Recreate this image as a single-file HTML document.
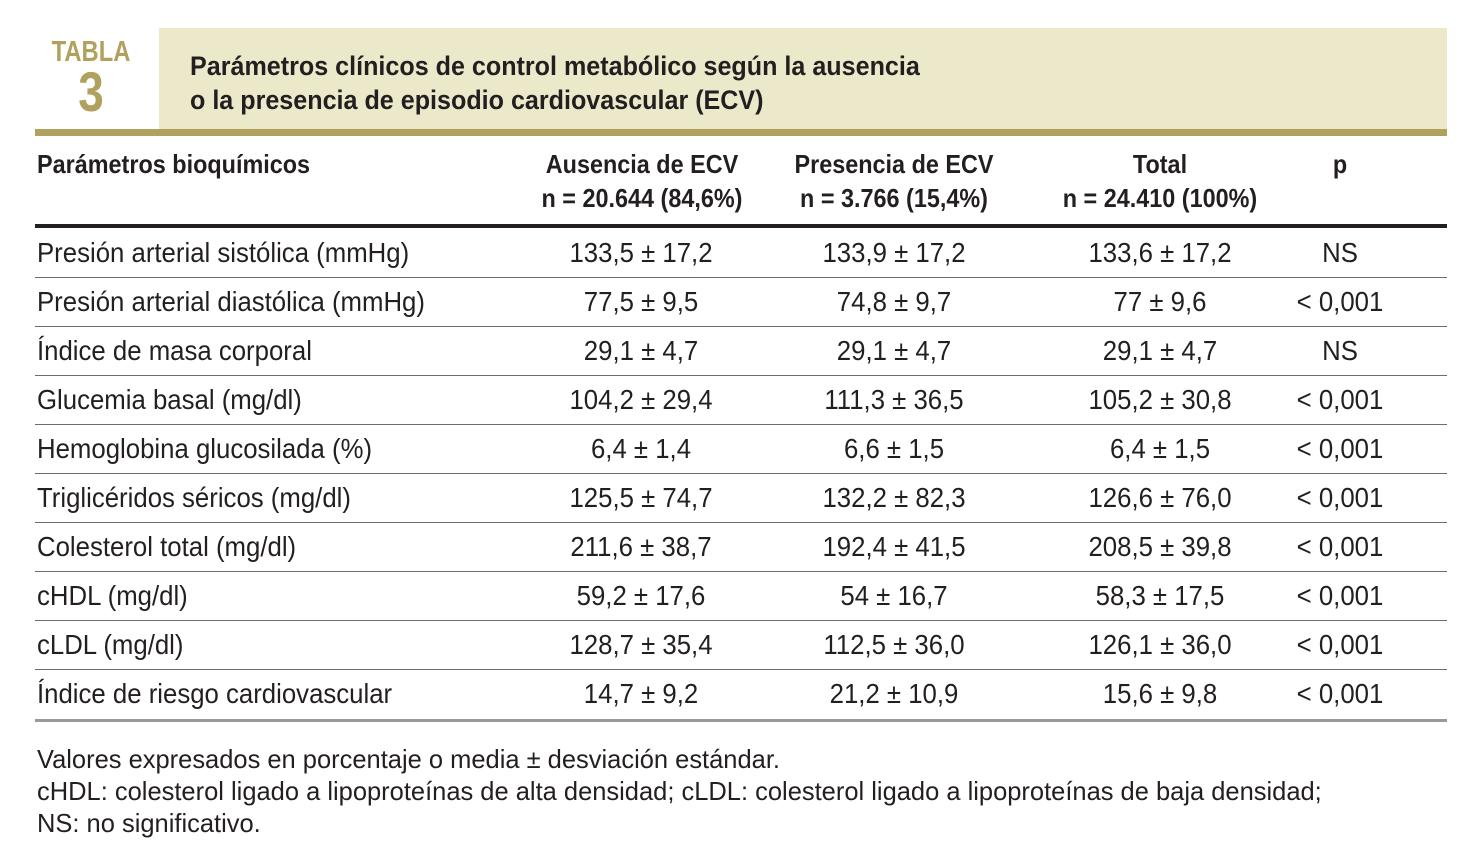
<!DOCTYPE html>
<html><head><meta charset="utf-8">
<style>
body{margin:0;width:1483px;height:866px;background:#fff;position:relative;overflow:hidden;font-family:"Liberation Sans",sans-serif;color:#231f20}
.a{position:absolute;white-space:nowrap}
.row{position:absolute;left:35px;width:1412px;height:49px;border-bottom:1px solid #6d6d6d}
.row div{position:absolute;top:0;line-height:49px;font-size:28px;transform:scaleX(0.92)}
.c0{transform-origin:left center}
.c1,.c2,.c3,.c4{width:300px;margin-left:-150px;text-align:center;transform-origin:center}
.c1{left:606px}.c2{left:859px}.c3{left:1125px}.c4{left:1305px}
.h{font-weight:bold;font-size:26px;text-align:center;line-height:34px;transform:scaleX(0.9)}
</style></head><body>
<div class="a" style="left:35px;top:36px;width:112px;text-align:center;color:#b1a15f;font-weight:bold;font-size:29px;line-height:32px;transform:scaleX(0.82)">TABLA<br><span style="font-size:56px;line-height:48px">3</span></div>
<div class="a" style="left:159px;top:28px;width:1288px;height:101px;background:#ece9cb"></div>
<div class="a" style="left:190px;top:49px;font-weight:bold;font-size:27px;line-height:34px;transform:scaleX(0.93);transform-origin:left top">Parámetros clínicos de control metabólico según la ausencia<br>o la presencia de episodio cardiovascular (ECV)</div>
<div class="a" style="left:35px;top:129px;width:1412px;height:7px;background:#b1a15f"></div>
<div class="a h" style="left:37px;top:147px;text-align:left;transform-origin:left top">Parámetros bioquímicos</div>
<div class="a h" style="left:492px;top:147px;width:300px">Ausencia de ECV<br>n = 20.644 (84,6%)</div>
<div class="a h" style="left:744px;top:147px;width:300px">Presencia de ECV<br>n = 3.766 (15,4%)</div>
<div class="a h" style="left:1010px;top:147px;width:300px">Total<br>n = 24.410 (100%)</div>
<div class="a h" style="left:1290px;top:147px;width:100px">p</div>
<div class="a" style="left:35px;top:224px;width:1412px;height:4px;background:#231f20"></div>
<div id="rows"></div>
<div class="a" style="left:35px;top:719px;width:1412px;height:3px;background:#999"></div>
<div class="a" style="left:37px;top:743px;font-size:26px;line-height:32px;transform:scaleX(0.98);transform-origin:left top">Valores expresados en porcentaje o media ± desviación estándar.<br>cHDL: colesterol ligado a lipoproteínas de alta densidad; cLDL: colesterol ligado a lipoproteínas de baja densidad;<br>NS: no significativo.</div>
<script>
const labels=["Presión arterial sistólica (mmHg)","Presión arterial diastólica (mmHg)","Índice de masa corporal","Glucemia basal (mg/dl)","Hemoglobina glucosilada (%)","Triglicéridos séricos (mg/dl)","Colesterol total (mg/dl)","cHDL (mg/dl)","cLDL (mg/dl)","Índice de riesgo cardiovascular"];
const ausencia=["133,5 ± 17,2","77,5 ± 9,5","29,1 ± 4,7","104,2 ± 29,4","6,4 ± 1,4","125,5 ± 74,7","211,6 ± 38,7","59,2 ± 17,6","128,7 ± 35,4","14,7 ± 9,2"];
const presencia=["133,9 ± 17,2","74,8 ± 9,7","29,1 ± 4,7","111,3 ± 36,5","6,6 ± 1,5","132,2 ± 82,3","192,4 ± 41,5","54 ± 16,7","112,5 ± 36,0","21,2 ± 10,9"];
const total=["133,6 ± 17,2","77 ± 9,6","29,1 ± 4,7","105,2 ± 30,8","6,4 ± 1,5","126,6 ± 76,0","208,5 ± 39,8","58,3 ± 17,5","126,1 ± 36,0","15,6 ± 9,8"];
const pvals=["NS","< 0,001","NS","< 0,001","< 0,001","< 0,001","< 0,001","< 0,001","< 0,001","< 0,001"];
const host=document.getElementById('rows');
labels.forEach((l,i)=>{
  const r=document.createElement('div');
  r.className='row';
  r.style.top=(228+49*i)+'px';
  if(i===labels.length-1)r.style.borderBottom='none';
  
  
  const cells=[[l,'c0'],[ausencia[i],'c1'],[presencia[i],'c2'],[total[i],'c3'],[pvals[i],'c4']];
  cells.forEach(([t,c])=>{
    const d=document.createElement('div');
    d.className=c;
    if(c==='c0')d.style.left='2px';
    d.textContent=t;
    
    
    r.appendChild(d);
  });
  host.appendChild(r);
});
</script>
</body></html>
